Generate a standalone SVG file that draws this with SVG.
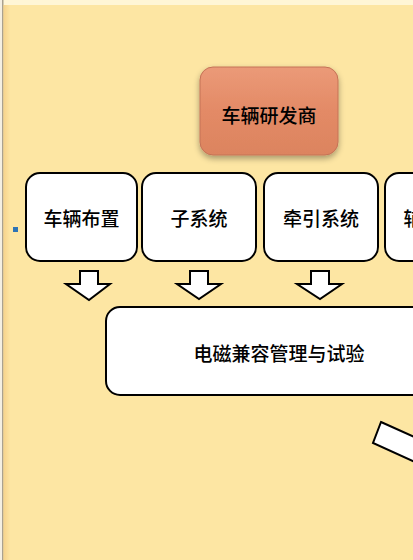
<svg xmlns="http://www.w3.org/2000/svg" width="413" height="560" viewBox="0 0 413 560">
  <defs>
    <linearGradient id="org" x1="0" y1="0" x2="0" y2="1">
      <stop offset="0" stop-color="#eb9a78"/>
      <stop offset="0.5" stop-color="#e38a66"/>
      <stop offset="1" stop-color="#dc845f"/>
    </linearGradient>
    <linearGradient id="edge" x1="0" y1="0" x2="1" y2="0">
      <stop offset="0" stop-color="#f6d38c"/>
      <stop offset="1" stop-color="#fde6a3"/>
    </linearGradient>
    <filter id="sh" x="-20%" y="-20%" width="140%" height="150%">
      <feGaussianBlur in="SourceAlpha" stdDeviation="3"/>
      <feOffset dy="3"/>
      <feComponentTransfer><feFuncA type="linear" slope="0.35"/></feComponentTransfer>
      <feMerge><feMergeNode/><feMergeNode in="SourceGraphic"/></feMerge>
    </filter>
  </defs>
  <style>
    .box { fill: #ffffff; stroke: #000000; stroke-width: 2; }
    .arr { fill: #ffffff; stroke: #000000; stroke-width: 2; stroke-linejoin: miter; }
    .t { font-family: "Noto Sans CJK SC", "Noto Sans", sans-serif; font-size: 19px; font-weight: 500; fill: #000000; text-anchor: middle; dominant-baseline: central; }
  </style>
  <rect x="0" y="0" width="413" height="560" fill="#fde6a3"/>
  <rect x="0" y="0" width="413" height="5" fill="#fff6d6"/>
  <rect x="0" y="0" width="2" height="560" fill="#f4efe2"/>
  <rect x="2" y="0" width="1.5" height="560" fill="#a9a190"/>
  <rect x="3.5" y="5" width="7" height="555" fill="url(#edge)"/>
  <rect x="13" y="227" width="5" height="5" fill="#2e74b5"/>

  <g id="connectors">
    <polygon class="arr" points="80,271 98,271 98,284 110,284 89,300 66,284 80,284"/>
    <polygon class="arr" points="190,271 208,271 208,284 221,284 199,299 177,284 190,284"/>
    <polygon class="arr" points="311,271 329,271 329,284 342,284 320,299 297,284 311,284"/>
    <polygon class="arr" points="381,422 432,445 424,466 373,443"/>
  </g>

  <g id="n-dev">
    <rect x="200" y="67" width="138" height="88" rx="13" fill="url(#org)" stroke="#c47256" stroke-width="1" filter="url(#sh)"/>
    <text class="t" x="269" y="114">车辆研发商</text>
  </g>
  <g id="n-layout">
    <rect class="box" x="26" y="173" width="111" height="88" rx="14"/>
    <text class="t" x="81.5" y="217">车辆布置</text>
  </g>
  <g id="n-sub">
    <rect class="box" x="142" y="173" width="114" height="88" rx="14"/>
    <text class="t" x="199" y="217">子系统</text>
  </g>
  <g id="n-traction">
    <rect class="box" x="264" y="173" width="114" height="88" rx="14"/>
    <text class="t" x="321" y="217">牵引系统</text>
  </g>
  <g id="n-aux">
    <rect class="box" x="385" y="173" width="114" height="88" rx="14"/>
    <text class="t" x="413" y="217">辅</text>
  </g>
  <g id="n-emc">
    <rect class="box" x="106" y="307" width="340" height="88" rx="14"/>
    <text class="t" x="279" y="352">电磁兼容管理与试验</text>
  </g>
</svg>
